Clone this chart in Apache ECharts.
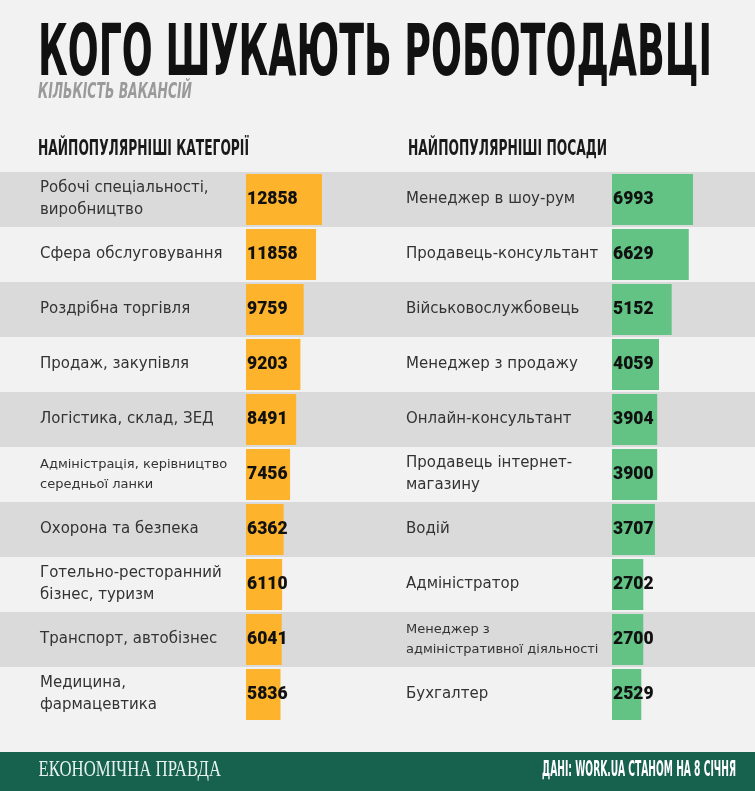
<!DOCTYPE html>
<html>
<head>
<meta charset="utf-8">
<script src="https://cdn.jsdelivr.net/npm/echarts@6/dist/echarts.min.js"></script>
<style>
html,body{margin:0;padding:0;background:#f2f2f2;}
#main{width:755px;height:791px;}
</style>
</head>
<body>
<div id="main"></div>
<script>
// ---- data ----
const titleText = 'КОГО ШУКАЮТЬ РОБОТОДАВЦІ';
const subtitleText = 'КІЛЬКІСТЬ ВАКАНСІЙ';
const leftHeader = 'НАЙПОПУЛЯРНІШІ КАТЕГОРІЇ';
const rightHeader = 'НАЙПОПУЛЯРНІШІ ПОСАДИ';
const footerLeft = 'ЕКОНОМІЧНА ПРАВДА';
const footerRight = 'ДАНІ: WORK.UA СТАНОМ НА 8 СІЧНЯ';

const categories = [
  'Робочі спеціальності,\nвиробництво',
  'Сфера обслуговування',
  'Роздрібна торгівля',
  'Продаж, закупівля',
  'Логістика, склад, ЗЕД',
  'Адміністрація, керівництво\nсередньої ланки',
  'Охорона та безпека',
  'Готельно-ресторанний\nбізнес, туризм',
  'Транспорт, автобізнес',
  'Медицина,\nфармацевтика'
];
const categoryValues = [12858, 11858, 9759, 9203, 8491, 7456, 6362, 6110, 6041, 5836];

const positions = [
  'Менеджер в шоу-рум',
  'Продавець-консультант',
  'Військовослужбовець',
  'Менеджер з продажу',
  'Онлайн-консультант',
  'Продавець інтернет-\nмагазину',
  'Водій',
  'Адміністратор',
  'Менеджер з\nадміністративної діяльності',
  'Бухгалтер'
];
const positionValues = [6993, 6629, 5152, 4059, 3904, 3900, 3707, 2702, 2700, 2529];

// ---- helpers ----
const cv = document.createElement('canvas').getContext('2d');
function fit(text, font, w) { cv.font = font; return w / cv.measureText(text).width; }

const condB = 'bold {s}px "DejaVu Sans Condensed"';
function f(tpl, s) { return tpl.replace('{s}', s); }

const titleFont = f(condB, 72);
const subFont = 'italic ' + f(condB, 22);
const headFont = f(condB, 22);
const footRFont = f(condB, 20.5);
const footLFont = '22.7px "Liberation Serif"';

function txt(text, font, x, y, w, fill) {
  return {
    type: 'text', x: x, y: y, scaleX: fit(text, font, w), scaleY: 1,
    style: { text: text, font: font, fill: fill, textAlign: 'left', textVerticalAlign: 'middle' }
  };
}

const labelFamily = '"DejaVu Sans"';
function catFormatter(v) {
  return (v.length > 36 ? '{b|' : '{a|') + v + '}';
}
const labelRich = {
  a: { fontFamily: labelFamily, fontSize: 15, lineHeight: 22, color: '#333' },
  b: { fontFamily: labelFamily, fontSize: 13, lineHeight: 20, color: '#333' }
};

function catAxis(gi, data, showLabel) {
  return {
    type: 'category', gridIndex: gi, data: data, inverse: true,
    axisLine: { show: false }, axisTick: { show: false },
    axisLabel: showLabel ? { show: true, align: 'left', margin: 206, formatter: catFormatter, rich: labelRich } : { show: false },
    splitLine: { show: false },
    splitArea: gi === 0 ? { show: true, areaStyle: { color: ['#dadada', '#f2f2f2'] } } : { show: false }
  };
}
function valAxis(gi, max) {
  return { type: 'value', gridIndex: gi, min: 0, max: max, show: false };
}
function barSeries(gi, data, color) {
  return {
    type: 'bar', xAxisIndex: gi, yAxisIndex: gi, data: data,
    barCategoryGap: '7%',
    itemStyle: { color: color },
    label: {
      show: true, position: 'insideLeft', distance: 1,
      fontFamily: 'Roboto', fontWeight: 900, fontSize: 17.5, color: '#111'
    },
    silent: true
  };
}

const chart = echarts.init(document.getElementById('main'), null, { renderer: 'canvas' });
chart.setOption({
  backgroundColor: '#f2f2f2',
  animation: false,
  grid: [
    { left: 0, right: 0, top: 172, height: 550, outerBoundsMode: 'none' },
    { left: 246, width: 118.2, top: 172, height: 550, outerBoundsMode: 'none' },
    { left: 612, width: 115.8, top: 172, height: 550, outerBoundsMode: 'none' }
  ],
  xAxis: [valAxis(0, 1), valAxis(1, 20000), valAxis(2, 10000)],
  yAxis: [catAxis(0, categories, false), catAxis(1, categories, true), catAxis(2, positions, true)],
  series: [barSeries(1, categoryValues, '#fdb42c'), barSeries(2, positionValues, '#62c385')],
  graphic: [
    txt(titleText, titleFont, 38, 78 - 0.297 * 72, 674, '#111'),
    txt(subtitleText, subFont, 38, 99 - 0.297 * 22, 154, '#9a9a9a'),
    txt(leftHeader, headFont, 38, 156 - 0.297 * 22, 211, '#1a1a1a'),
    txt(rightHeader, headFont, 408, 156 - 0.297 * 22, 199, '#1a1a1a'),
    { type: 'rect', shape: { x: 0, y: 752, width: 755, height: 39 }, style: { fill: '#17614f' } },
    txt(footerLeft, footLFont, 38.5, 777 - 0.305 * 22.7, 182.5, '#e8f3ee'),
    txt(footerRight, footRFont, 542, 777 - 0.297 * 20.5, 194, '#ffffff')
  ]
});
</script>
</body>
</html>
